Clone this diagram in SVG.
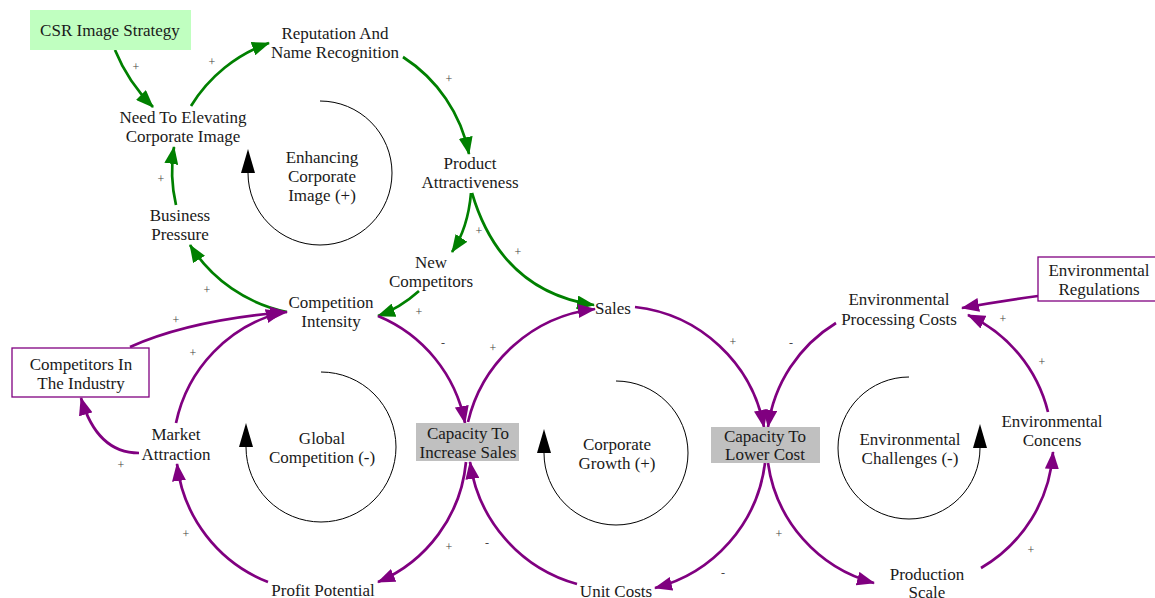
<svg xmlns="http://www.w3.org/2000/svg" width="1155" height="598" viewBox="0 0 1155 598">
<style>
text{font-family:'Liberation Serif','Times New Roman',serif;font-size:17px;fill:#1a1a1a;text-anchor:middle}
.pol{font-size:12px;fill:#444}
.g{fill:none;stroke:#008000;stroke-width:2.7}
.p{fill:none;stroke:#800080;stroke-width:2.7}
.loop{fill:none;stroke:#000;stroke-width:1}
.box{fill:#fff;stroke:#800080;stroke-width:1.3}
.gray{fill:#c0c0c0}
</style>
<defs>
<marker id="ag" markerUnits="userSpaceOnUse" markerWidth="18" markerHeight="14" viewBox="0 0 18 14" refX="17" refY="7" orient="auto"><path d="M0,0 L18,7 L0,14 z" fill="#008000"/></marker>
<marker id="ap" markerUnits="userSpaceOnUse" markerWidth="18" markerHeight="14" viewBox="0 0 18 14" refX="17" refY="7" orient="auto"><path d="M0,0 L18,7 L0,14 z" fill="#800080"/></marker>
<marker id="ak" markerUnits="userSpaceOnUse" markerWidth="24" markerHeight="14" viewBox="0 0 24 14" refX="0" refY="7" orient="auto"><path d="M0,0 L24,7 L0,14 z" fill="#000"/></marker>
</defs>

<g id="loops">
<g id="loop-enhancing"><path class="loop" d="M320,101 A72,72 0 1,1 248,173" marker-end="url(#ak)"/><text x="322" y="163">Enhancing</text><text x="322" y="182">Corporate</text><text x="322" y="201">Image (+)</text></g>
<g id="loop-global"><path class="loop" d="M321,372 A75,75 0 1,1 246,447" marker-end="url(#ak)"/><text x="322" y="444">Global</text><text x="322" y="463">Competition (-)</text></g>
<g id="loop-growth"><path class="loop" d="M616,381 A72,72 0 1,1 544,453" marker-end="url(#ak)"/><text x="617" y="450">Corporate</text><text x="617" y="469">Growth (+)</text></g>
<g id="loop-env"><path class="loop" d="M909,377 A71,71 0 1,0 980,448" marker-end="url(#ak)"/><text x="910" y="445">Environmental</text><text x="910" y="464">Challenges (-)</text></g>
</g>

<g id="connectors">
<path class="g" d="M115,50 Q128,82 153,107" marker-end="url(#ag)"/>
<path class="g" d="M191,106 A150,150 0 0,1 269,43" marker-end="url(#ag)"/>
<path class="g" d="M403,57 A150,150 0 0,1 469,154" marker-end="url(#ag)"/>
<path class="g" d="M176,205 A150,150 0 0,1 174,147" marker-end="url(#ag)"/>
<path class="g" d="M287,312 A150,150 0 0,1 190,245" marker-end="url(#ag)"/>
<path class="g" d="M471,193 Q468,228 452,252" marker-end="url(#ag)"/>
<path class="g" d="M472,193 Q501,291 594,305" marker-end="url(#ag)"/>
<path class="g" d="M419,291 Q400,308 378,316" marker-end="url(#ag)"/>

<path class="p" d="M130,347 Q190,320 287,312" marker-end="url(#ap)"/>
<path class="p" d="M176,423 A145,145 0 0,1 283,312" marker-end="url(#ap)"/>
<path class="p" d="M139,453 Q97,453 81,398" marker-end="url(#ap)"/>
<path class="p" d="M268,582 A145,145 0 0,1 177,464" marker-end="url(#ap)"/>
<path class="p" d="M378,316 A145,145 0 0,1 465,423" marker-end="url(#ap)"/>
<path class="p" d="M466,462 A145,145 0 0,1 378,582" marker-end="url(#ap)"/>
<path class="p" d="M468,422 A148,148 0 0,1 595,309" marker-end="url(#ap)"/>
<path class="p" d="M577,584 A148,148 0 0,1 470,462" marker-end="url(#ap)"/>
<path class="p" d="M635,307 A148,148 0 0,1 764,427" marker-end="url(#ap)"/>
<path class="p" d="M765,463 A148,148 0 0,1 655,588" marker-end="url(#ap)"/>
<path class="p" d="M836,323 A145,145 0 0,0 768,427" marker-end="url(#ap)"/>
<path class="p" d="M768,463 A145,145 0 0,0 874,583" marker-end="url(#ap)"/>
<path class="p" d="M981,568 A145,145 0 0,0 1053,452" marker-end="url(#ap)"/>
<path class="p" d="M1048,412 A145,145 0 0,0 968,315" marker-end="url(#ap)"/>
<path class="p" d="M1038,296 Q1000,301 962,308" marker-end="url(#ap)"/>

<g id="polarities">
<text class="pol" x="136" y="71">+</text>
<text class="pol" x="212" y="66">+</text>
<text class="pol" x="449" y="83">+</text>
<text class="pol" x="161" y="183">+</text>
<text class="pol" x="207" y="294">+</text>
<text class="pol" x="479" y="235">+</text>
<text class="pol" x="518" y="256">+</text>
<text class="pol" x="419" y="316">+</text>
<text class="pol" x="176" y="324">+</text>
<text class="pol" x="193" y="357">+</text>
<text class="pol" x="121" y="469">+</text>
<text class="pol" x="186" y="538">+</text>
<text class="pol" x="443" y="347">-</text>
<text class="pol" x="493" y="352">+</text>
<text class="pol" x="449" y="551">+</text>
<text class="pol" x="487" y="547">-</text>
<text class="pol" x="733" y="346">+</text>
<text class="pol" x="791" y="347">-</text>
<text class="pol" x="723" y="577">-</text>
<text class="pol" x="779" y="538">+</text>
<text class="pol" x="1031" y="554">+</text>
<text class="pol" x="1042" y="366">+</text>
<text class="pol" x="1003" y="323">+</text>
</g>
</g>

<g id="csr-image-strategy"><rect x="30" y="10" width="161" height="40" fill="#c0ffc0"/><text x="110" y="36">CSR Image Strategy</text></g>
<g id="reputation"><text x="335" y="39">Reputation And</text><text x="335" y="58">Name Recognition</text></g>
<g id="need-to-elevating"><text x="183" y="123">Need To Elevating</text><text x="183" y="142">Corporate Image</text></g>
<g id="product-attractiveness"><text x="470" y="169">Product</text><text x="470" y="188">Attractiveness</text></g>
<g id="business-pressure"><text x="180" y="221">Business</text><text x="180" y="240">Pressure</text></g>
<g id="new-competitors"><text x="431" y="268">New</text><text x="431" y="287">Competitors</text></g>
<g id="competition-intensity"><text x="331" y="308">Competition</text><text x="331" y="327">Intensity</text></g>
<g id="sales"><text x="613" y="314">Sales</text></g>
<g id="env-processing-costs"><text x="899" y="305">Environmental</text><text x="899" y="325">Processing Costs</text></g>
<g id="env-regulations"><rect class="box" x="1038" y="257" width="125" height="44"/><text x="1099" y="276">Environmental</text><text x="1099" y="295">Regulations</text></g>
<g id="competitors-in-industry"><rect class="box" x="12" y="348" width="137" height="49"/><text x="81" y="370">Competitors In</text><text x="81" y="389">The Industry</text></g>
<g id="market-attraction"><text x="176" y="440">Market</text><text x="176" y="460">Attraction</text></g>
<g id="capacity-increase-sales"><rect class="gray" x="416" y="423" width="103" height="38"/><text x="468" y="439">Capacity To</text><text x="468" y="458">Increase Sales</text></g>
<g id="capacity-lower-cost"><rect class="gray" x="711" y="427" width="109" height="36"/><text x="765" y="442">Capacity To</text><text x="765" y="460">Lower Cost</text></g>
<g id="env-concens"><text x="1052" y="427">Environmental</text><text x="1052" y="446">Concens</text></g>
<g id="profit-potential"><text x="323" y="596">Profit Potential</text></g>
<g id="unit-costs"><text x="616" y="597">Unit Costs</text></g>
<g id="production-scale"><text x="927" y="580">Production</text><text x="927" y="598">Scale</text></g>
</svg>
